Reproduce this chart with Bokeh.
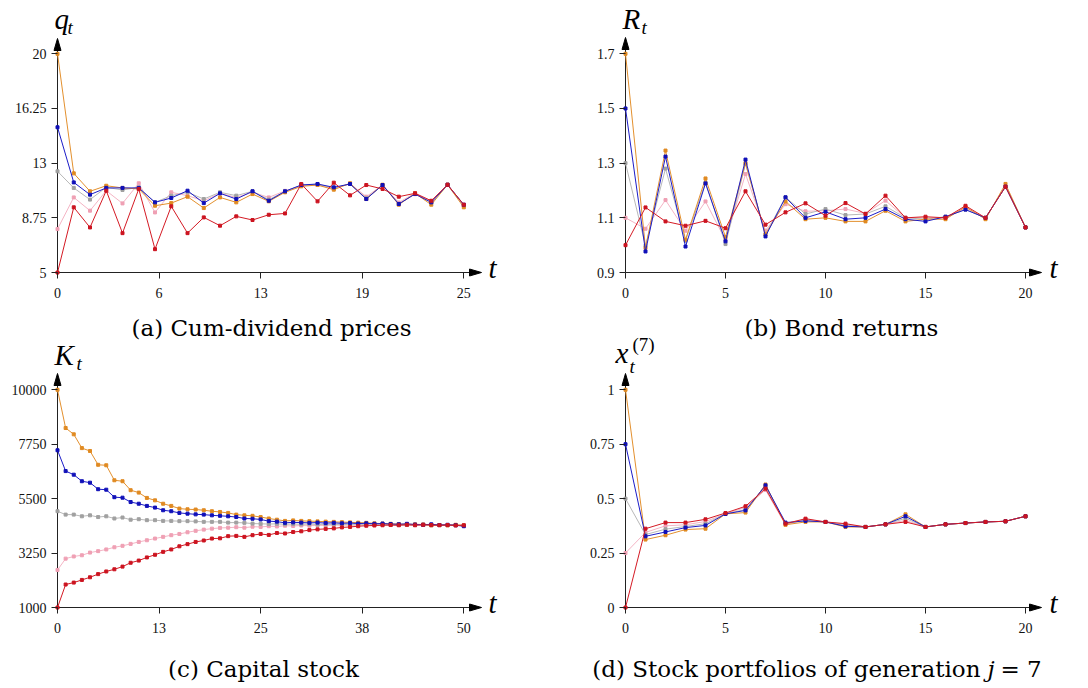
from bokeh.plotting import figure
from bokeh.layouts import column, row
from bokeh.models import Range1d, FixedTicker, Label
from bokeh.embed import file_html
from bokeh.resources import INLINE

# ---------------- data ----------------
t_a = list(range(26))
q_orange = [20.0, 11.8, 10.57, 10.95, 10.8, 10.73, 9.58, 9.76, 10.2, 9.42, 10.15, 9.81, 10.38, 9.88, 10.5, 10.91, 11.0, 10.68, 11.12, 10.04, 11.02, 9.65, 10.43, 9.65, 11.02, 9.47]
q_blue = [14.96, 11.18, 10.34, 10.8, 10.8, 10.8, 9.81, 10.11, 10.61, 9.76, 10.43, 10.04, 10.57, 9.92, 10.57, 11.0, 11.07, 10.84, 11.07, 10.04, 11.0, 9.7, 10.38, 9.81, 11.02, 9.65]
q_gray = [11.94, 10.8, 10.0, 10.84, 10.66, 10.84, 9.81, 10.27, 10.5, 10.04, 10.5, 10.27, 10.57, 10.0, 10.55, 11.0, 11.05, 10.8, 11.07, 10.1, 11.0, 9.7, 10.4, 9.8, 11.02, 9.6]
q_pink = [7.98, 10.15, 9.24, 10.61, 9.74, 11.12, 9.12, 10.5, 10.27, 9.92, 10.43, 10.15, 10.5, 10.15, 10.6, 10.95, 11.0, 10.75, 11.1, 10.2, 11.0, 9.8, 10.45, 9.9, 11.0, 9.6]
q_red = [5.0, 9.47, 8.09, 10.61, 7.7, 10.73, 6.6, 9.54, 7.7, 8.78, 8.21, 8.85, 8.6, 8.96, 9.05, 11.07, 9.88, 11.16, 10.29, 11.0, 10.73, 10.2, 10.43, 9.92, 11.02, 9.65]

t_b = list(range(21))
R_orange = [1.7, 0.99, 1.346, 1.02, 1.244, 1.03, 1.30, 1.04, 1.16, 1.095, 1.10, 1.087, 1.087, 1.126, 1.087, 1.095, 1.095, 1.14, 1.095, 1.224, 1.065]
R_blue = [1.5, 0.977, 1.324, 0.995, 1.226, 1.014, 1.313, 1.032, 1.175, 1.10, 1.122, 1.095, 1.10, 1.132, 1.095, 1.087, 1.104, 1.13, 1.10, 1.214, 1.065]
R_gray = [1.3, 0.998, 1.28, 1.016, 1.23, 1.004, 1.297, 1.04, 1.175, 1.114, 1.132, 1.11, 1.114, 1.142, 1.10, 1.095, 1.104, 1.13, 1.10, 1.214, 1.065]
R_pink = [1.1, 1.06, 1.165, 1.053, 1.16, 1.018, 1.26, 1.053, 1.15, 1.124, 1.126, 1.132, 1.116, 1.163, 1.10, 1.10, 1.10, 1.136, 1.10, 1.214, 1.065]
R_red = [1.0, 1.138, 1.087, 1.071, 1.089, 1.062, 1.197, 1.075, 1.12, 1.153, 1.108, 1.154, 1.114, 1.181, 1.10, 1.104, 1.10, 1.144, 1.10, 1.214, 1.065]

t_c = list(range(51))
K_orange = [10000, 8420, 8160, 7590, 7470, 6900, 6880, 6260, 6220, 5850, 5750, 5530, 5430, 5290, 5200, 5090, 5060, 5050, 5020, 4980, 4950, 4910, 4840, 4810, 4790, 4740, 4680, 4630, 4580, 4600, 4580, 4570, 4560, 4550, 4540, 4530, 4520, 4510, 4500, 4480, 4470, 4460, 4450, 4440, 4440, 4430, 4400, 4410, 4400, 4420, 4390]
K_blue = [7500, 6640, 6490, 6220, 6160, 5890, 5870, 5560, 5540, 5360, 5290, 5200, 5130, 5020, 4980, 4910, 4880, 4850, 4840, 4810, 4790, 4770, 4740, 4680, 4670, 4640, 4570, 4550, 4500, 4520, 4510, 4500, 4510, 4490, 4500, 4480, 4490, 4470, 4480, 4460, 4470, 4450, 4440, 4460, 4430, 4420, 4440, 4410, 4420, 4400, 4360]
K_gray = [4980, 4840, 4840, 4770, 4810, 4740, 4770, 4680, 4720, 4630, 4650, 4610, 4610, 4580, 4580, 4570, 4570, 4560, 4540, 4540, 4540, 4510, 4510, 4500, 4470, 4460, 4450, 4460, 4440, 4450, 4440, 4450, 4430, 4440, 4430, 4440, 4420, 4430, 4420, 4430, 4420, 4420, 4410, 4420, 4410, 4420, 4400, 4410, 4400, 4410, 4390]
K_pink = [2550, 3020, 3110, 3160, 3270, 3330, 3400, 3490, 3550, 3630, 3710, 3780, 3850, 3920, 3990, 4040, 4110, 4170, 4220, 4260, 4290, 4300, 4320, 4300, 4340, 4330, 4360, 4350, 4380, 4370, 4390, 4380, 4400, 4390, 4410, 4400, 4410, 4400, 4420, 4410, 4420, 4410, 4420, 4410, 4420, 4410, 4400, 4410, 4400, 4410, 4390]
K_red = [1000, 1950, 2030, 2140, 2250, 2380, 2490, 2580, 2690, 2850, 2940, 3070, 3180, 3300, 3400, 3530, 3620, 3710, 3770, 3850, 3860, 3950, 3960, 3920, 3990, 4040, 4000, 4080, 4060, 4120, 4150, 4200, 4230, 4250, 4270, 4310, 4330, 4360, 4380, 4390, 4400, 4410, 4400, 4420, 4400, 4420, 4410, 4400, 4410, 4390, 4400]

t_d = list(range(21))
x_orange = [1.0, 0.312, 0.332, 0.358, 0.362, 0.43, 0.436, 0.565, 0.38, 0.393, 0.393, 0.37, 0.37, 0.382, 0.428, 0.37, 0.382, 0.388, 0.393, 0.396, 0.419]
x_blue = [0.75, 0.327, 0.347, 0.367, 0.377, 0.43, 0.446, 0.561, 0.39, 0.398, 0.393, 0.373, 0.37, 0.382, 0.419, 0.37, 0.382, 0.388, 0.393, 0.396, 0.419]
x_gray = [0.5, 0.335, 0.36, 0.372, 0.385, 0.43, 0.45, 0.555, 0.385, 0.40, 0.393, 0.377, 0.37, 0.382, 0.41, 0.37, 0.382, 0.388, 0.393, 0.396, 0.419]
x_pink = [0.25, 0.345, 0.375, 0.38, 0.395, 0.43, 0.46, 0.54, 0.38, 0.405, 0.393, 0.382, 0.37, 0.382, 0.40, 0.37, 0.382, 0.388, 0.393, 0.396, 0.419]
x_red = [0.0, 0.362, 0.39, 0.39, 0.405, 0.434, 0.465, 0.546, 0.385, 0.408, 0.393, 0.385, 0.37, 0.382, 0.393, 0.37, 0.382, 0.388, 0.393, 0.396, 0.419]

ticks_a_x = [0, 6.25, 12.5, 18.75, 25]
labels_a_x = ["0", "6", "13", "19", "25"]
ticks_a_y = [5, 8.75, 12.5, 16.25, 20]
labels_a_y = ["5", "8.75", "13", "16.25", "20"]
ticks_b_x = [0, 5, 10, 15, 20]
labels_b_x = ["0", "5", "10", "15", "20"]
ticks_b_y = [0.9, 1.1, 1.3, 1.5, 1.7]
labels_b_y = ["0.9", "1.1", "1.3", "1.5", "1.7"]
ticks_c_x = [0, 12.5, 25, 37.5, 50]
labels_c_x = ["0", "13", "25", "38", "50"]
ticks_c_y = [1000, 3250, 5500, 7750, 10000]
labels_c_y = ["1000", "3250", "5500", "7750", "10000"]
ticks_d_x = [0, 5, 10, 15, 20]
labels_d_x = ["0", "5", "10", "15", "20"]
ticks_d_y = [0, 0.25, 0.5, 0.75, 1]
labels_d_y = ["0", "0.25", "0.5", "0.75", "1"]

COLORS = {
    "pink": ("#F4B4C4", "#EFA0B4"),
    "gray": ("#B8B8B8", "#A0A0A0"),
    "orange": ("#E3902E", "#E08A22"),
    "blue": ("#1C1CC8", "#1010B8"),
    "red": ("#D41A24", "#CC1420"),
}

SERIF = "Liberation Serif"
CAPTION = "DejaVu Serif"


def make_panel(ox, oy, W, H, px_x0, px_x1, px_y0, px_y1, x0, x1, y0, y1,
               xt, xl, yt, yl, series, tip_x, tip_y):
    ppx = (px_x1 - px_x0) / (x1 - x0)
    ppy = (px_y0 - px_y1) / (y1 - y0)

    def dx(px):
        return x0 + (px - px_x0) / ppx

    def dy(py):
        return y0 + (px_y0 - py) / ppy

    p = figure(width=W, height=H, output_backend="svg", toolbar_location=None,
               x_range=Range1d(dx(ox), dx(ox + W)), y_range=Range1d(dy(oy + H), dy(oy)),
               min_border=0)
    p.outline_line_color = None
    p.grid.visible = False
    p.background_fill_color = "white"
    p.border_fill_color = "white"
    p.xaxis.fixed_location = y0
    p.yaxis.fixed_location = x0

    for ax, ticks, labels in ((p.xaxis[0], xt, xl), (p.yaxis[0], yt, yl)):
        ax.ticker = FixedTicker(ticks=ticks)
        ax.major_label_overrides = {tk: lb for tk, lb in zip(ticks, labels)}
        ax.axis_line_color = None
        ax.major_tick_in = 0
        ax.major_tick_out = 6
        ax.major_tick_line_color = "#222222"
        ax.minor_tick_line_color = None
        ax.major_label_text_font = SERIF
        ax.major_label_text_font_size = "14px"
        ax.major_label_text_color = "#111111"
        ax.major_label_standoff = 5
    p.xaxis[0].major_label_standoff = 9

    # axis lines with arrow heads
    p.line([x0, dx(tip_x - 4)], [y0, y0], line_color="#222222", line_width=1)
    p.line([x0, x0], [y0, dy(tip_y + 4)], line_color="#222222", line_width=1)
    p.patch([dx(tip_x), dx(tip_x - 12), dx(tip_x - 12)],
            [y0, dy(px_y0 - 3.5), dy(px_y0 + 3.5)], fill_color="black", line_color="black")
    p.patch([x0, dx(px_x0 - 3.5), dx(px_x0 + 3.5)],
            [dy(tip_y), dy(tip_y + 12), dy(tip_y + 12)], fill_color="black", line_color="black")

    for name, xs, ys in series:
        lc, mc = COLORS[name]
        p.line(xs, ys, line_color=lc, line_width=1)
        p.scatter(xs, ys, marker="square", size=3, fill_color=mc, line_color=mc)
    return p, dx, dy


def add_text(p, dx, dy, px, baseline, text, size, style="normal", align="left", font=SERIF):
    # anchor at the vertical middle of the text box (baseline minus ~0.34 em)
    mid = baseline - 0.34 * size
    p.add_layout(Label(x=dx(px), y=dy(mid), text=text, text_font=font, text_font_size=f"{size}px",
                       text_font_style=style, text_align=align, text_baseline="middle",
                       text_color="black"))


pa, dxa, dya = make_panel(0, 0, 540, 312, 57, 463.3, 272, 53.3, 0, 25, 5, 20,
                          ticks_a_x, labels_a_x, ticks_a_y, labels_a_y,
                          [("pink", t_a, q_pink), ("gray", t_a, q_gray), ("orange", t_a, q_orange),
                           ("blue", t_a, q_blue), ("red", t_a, q_red)], 481, 38)
add_text(pa, dxa, dya, 54, 28, "q", 29, "italic")
add_text(pa, dxa, dya, 67, 33, "t", 19, "italic")
add_text(pa, dxa, dya, 488, 277, "t", 29, "italic")

pb, dxb, dyb = make_panel(540, 0, 540, 312, 625, 1025, 272, 53.3, 0, 20, 0.9, 1.7,
                          ticks_b_x, labels_b_x, ticks_b_y, labels_b_y,
                          [("pink", t_b, R_pink), ("gray", t_b, R_gray), ("orange", t_b, R_orange),
                           ("blue", t_b, R_blue), ("red", t_b, R_red)], 1041, 37)
add_text(pb, dxb, dyb, 622, 28, "R", 29, "italic")
add_text(pb, dxb, dyb, 641, 33, "t", 19, "italic")
add_text(pb, dxb, dyb, 1049, 277, "t", 29, "italic")

pc, dxc, dyc = make_panel(0, 312, 540, 372, 57, 463.3, 607, 389.3, 0, 50, 1000, 10000,
                          ticks_c_x, labels_c_x, ticks_c_y, labels_c_y,
                          [("pink", t_c, K_pink), ("gray", t_c, K_gray), ("orange", t_c, K_orange),
                           ("blue", t_c, K_blue), ("red", t_c, K_red)], 481, 373)
add_text(pc, dxc, dyc, 271, 335, "(a) Cum-dividend prices", 23, align="center", font=CAPTION)
add_text(pc, dxc, dyc, 54, 364, "K", 29, "italic")
add_text(pc, dxc, dyc, 76, 369, "t", 19, "italic")
add_text(pc, dxc, dyc, 488, 612, "t", 29, "italic")
add_text(pc, dxc, dyc, 263, 676, "(c) Capital stock", 23, align="center", font=CAPTION)

pd_, dxd, dyd = make_panel(540, 312, 540, 372, 625, 1025, 607, 389.3, 0, 20, 0, 1,
                           ticks_d_x, labels_d_x, ticks_d_y, labels_d_y,
                           [("pink", t_d, x_pink), ("gray", t_d, x_gray), ("orange", t_d, x_orange),
                            ("blue", t_d, x_blue), ("red", t_d, x_red)], 1041, 373)
add_text(pd_, dxd, dyd, 841, 335, "(b) Bond returns", 23, align="center", font=CAPTION)
add_text(pd_, dxd, dyd, 615, 362, "x", 29, "italic")
add_text(pd_, dxd, dyd, 629, 372, "t", 19, "italic")
add_text(pd_, dxd, dyd, 632, 350, "(7)", 19)
add_text(pd_, dxd, dyd, 1049, 612, "t", 29, "italic")
add_text(pd_, dxd, dyd, 980, 676, "(d) Stock portfolios of generation", 23, align="right", font=CAPTION)
add_text(pd_, dxd, dyd, 987, 676, "j", 23, "italic", font=CAPTION)
add_text(pd_, dxd, dyd, 1000, 676, "= 7", 23, font=CAPTION)

layout = column(row(pa, pb), row(pc, pd_))
open("out.html", "w").write(file_html(layout, INLINE))
